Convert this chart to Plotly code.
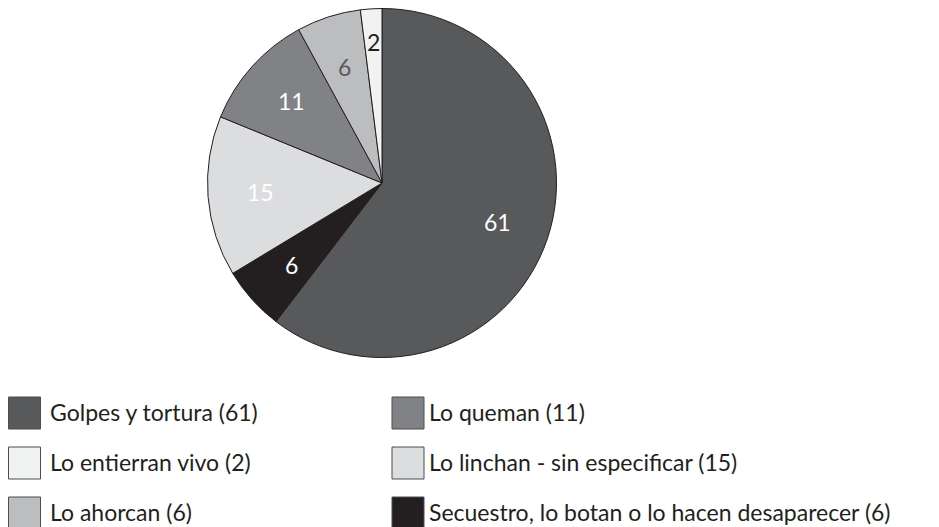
import math
import plotly.graph_objects as go

# Data (legend order)
categories = [
    "Golpes y tortura",
    "Lo queman",
    "Lo entierran vivo",
    "Lo linchan - sin especificar",
    "Lo ahorcan",
    "Secuestro, lo botan o lo hacen desaparecer",
]
values = [61, 11, 2, 15, 6, 6]
colors = ["#58595b", "#808285", "#f1f2f2", "#dcdddf", "#bbbdbf", "#231f20"]
label_colors = ["#ffffff", "#ffffff", "#231f20", "#ffffff", "#58595b", "#ffffff"]

# Order of slices clockwise from 12 o'clock
pie_order = [0, 5, 3, 1, 4, 2]

W, H = 939, 527
FONT = "Lato"

# Pie geometry (pixels from figure top-left)
CX, CY, R = 374, 175, 174.5

fig = go.Figure()
fig.add_trace(go.Pie(
    labels=[categories[i] for i in pie_order],
    values=[values[i] for i in pie_order],
    marker=dict(colors=[colors[i] for i in pie_order],
                line=dict(color="#231f20", width=1)),
    sort=False,
    direction="clockwise",
    rotation=0,
    textinfo="none",
    showlegend=False,
    hoverinfo="label+value",
    domain=dict(x=[(CX - R) / W, (CX + R) / W], y=[1 - (CY + R) / H, 1 - (CY - R) / H]),
))

annotations = []
shapes = []

# Slice value labels placed at each slice's mid-angle
total = sum(values)
cum = 0
for i in pie_order:
    v = values[i]
    mid = (cum + v / 2) / total * 2 * math.pi
    cum += v
    frac = 0.81 if v / total < 0.03 else 0.70
    px = CX + frac * R * math.sin(mid)
    py = CY - frac * R * math.cos(mid)
    annotations.append(dict(
        xref="paper", yref="paper", x=px / W, y=1 - py / H,
        xanchor="center", yanchor="middle", showarrow=False,
        text=str(v), font=dict(family=FONT, size=23, color=label_colors[i]),
    ))

# Custom legend: 2 columns x 3 rows
col_box_x = [0.5, 384]
col_text_x = [41, 420]
row_top = [389, 439, 489]
box = 32
for k, name in enumerate(categories):
    r, c = divmod(k, 2)
    x0 = col_box_x[c]
    y0 = row_top[r]
    shapes.append(dict(
        type="rect", xref="paper", yref="paper",
        x0=x0 / W, x1=(x0 + box) / W,
        y0=1 - y0 / H, y1=1 - (y0 + box) / H,
        fillcolor=colors[k], line=dict(color="#4d4d4f", width=1),
    ))
    annotations.append(dict(
        xref="paper", yref="paper",
        x=col_text_x[c] / W, y=1 - (y0 + box / 2 - 1) / H,
        xanchor="left", yanchor="middle", borderpad=0,
        text=f"{name} ({values[k]})", showarrow=False,
        font=dict(family=FONT, size=23, color="#231f20"),
    ))

fig.update_layout(
    width=W, height=H, autosize=False,
    margin=dict(l=0, r=0, t=0, b=0),
    paper_bgcolor="white", plot_bgcolor="white",
    shapes=shapes, annotations=annotations,
    font=dict(family=FONT),
)

fig.write_html("out.html")
